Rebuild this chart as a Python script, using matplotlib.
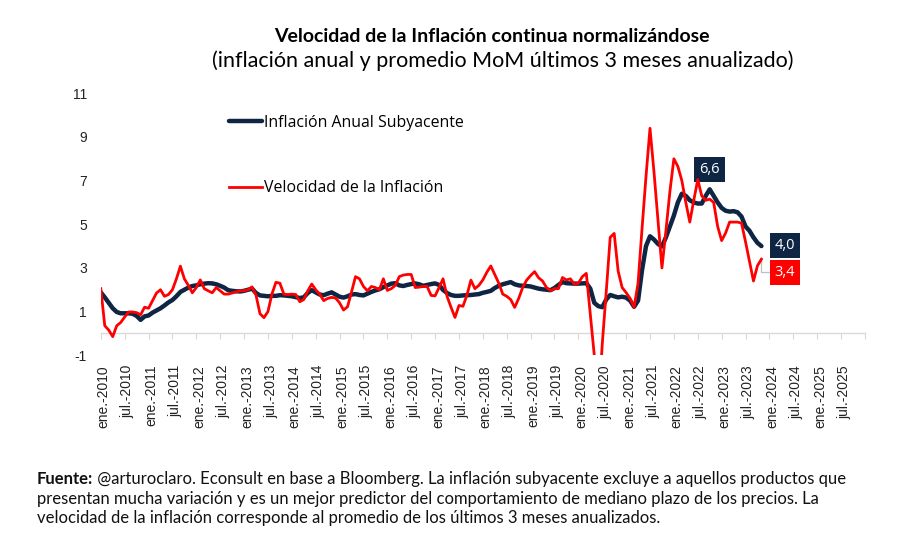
import numpy as np
import matplotlib.pyplot as plt
from matplotlib.transforms import ScaledTranslation

plt.rcParams["axes.unicode_minus"] = False

# ======================================================
# DATA  (monthly, first point = dic-2009, last = oct-2023)
# ======================================================
core_yoy = [
    1.88, 1.65, 1.40, 1.15, 0.98, 0.92, 0.92, 0.92, 0.90, 0.80, 0.62, 0.78,
    0.82, 0.95, 1.05, 1.15, 1.28, 1.42, 1.53, 1.70, 1.90, 2.00, 2.10, 2.17,
    2.20, 2.25, 2.28, 2.30, 2.29, 2.25, 2.18, 2.10, 1.98, 1.95, 1.93, 1.92,
    1.95, 2.00, 2.05, 1.85, 1.74, 1.72, 1.70, 1.72, 1.72, 1.75, 1.74, 1.72,
    1.70, 1.66, 1.62, 1.65, 1.85, 1.98, 1.88, 1.78, 1.75, 1.82, 1.88, 1.78,
    1.68, 1.64, 1.70, 1.78, 1.80, 1.76, 1.74, 1.82, 1.90, 1.97, 2.02, 2.12,
    2.20, 2.28, 2.30, 2.20, 2.17, 2.22, 2.26, 2.29, 2.25, 2.18, 2.22, 2.26,
    2.29, 2.22, 1.99, 1.85, 1.76, 1.72, 1.72, 1.74, 1.75, 1.76, 1.78, 1.80,
    1.86, 1.90, 1.95, 2.08, 2.18, 2.25, 2.30, 2.35, 2.25, 2.20, 2.18, 2.17,
    2.15, 2.10, 2.05, 2.02, 2.00, 1.98, 2.08, 2.22, 2.35, 2.30, 2.29, 2.28,
    2.28, 2.29, 2.30, 2.05, 1.40, 1.25, 1.20, 1.55, 1.76, 1.70, 1.65, 1.68,
    1.64, 1.50, 1.22, 1.50, 2.90, 4.00, 4.45, 4.30, 4.10, 3.98, 4.40, 4.90,
    5.40, 6.00, 6.40, 6.30, 6.10, 6.00, 5.95, 5.95, 6.30, 6.60, 6.30, 6.00,
    5.75, 5.62, 5.58, 5.60, 5.55, 5.35, 4.90, 4.70, 4.40, 4.15, 4.00,
]

velocity_3m = [
    2.05, 0.35, 0.15, -0.15, 0.35, 0.50, 0.75, 0.98, 0.98, 0.95, 0.85, 1.20,
    1.15, 1.50, 1.85, 2.00, 1.70, 1.78, 2.00, 2.50, 3.08, 2.50, 2.20, 1.86,
    2.10, 2.45, 2.05, 1.95, 1.86, 2.10, 1.95, 1.80, 1.80, 1.85, 1.90, 1.95,
    1.95, 2.00, 2.13, 1.75, 0.90, 0.72, 1.00, 1.80, 2.34, 2.30, 1.80, 1.78,
    1.80, 1.78, 1.45, 1.55, 1.95, 2.26, 2.00, 1.80, 1.50, 1.60, 1.65, 1.62,
    1.40, 1.07, 1.22, 1.90, 2.60, 2.50, 2.15, 1.95, 2.15, 2.10, 2.00, 2.50,
    1.97, 2.05, 2.20, 2.60, 2.67, 2.70, 2.70, 2.10, 2.12, 2.15, 2.15, 1.74,
    1.72, 2.10, 2.50, 1.70, 1.20, 0.73, 1.28, 1.24, 1.75, 2.44, 2.05, 2.20,
    2.45, 2.80, 3.09, 2.70, 2.30, 1.80, 1.70, 1.55, 1.19, 1.60, 2.10, 2.44,
    2.65, 2.83, 2.55, 2.40, 2.10, 1.96, 2.05, 2.05, 2.56, 2.45, 2.50, 2.25,
    2.30, 2.60, 2.75, 0.90, -1.00, -3.50, -0.50, 1.90, 4.40, 4.58, 2.85, 2.10,
    1.87, 1.60, 1.20, 2.30, 4.80, 7.20, 9.40, 7.40, 5.20, 3.00, 4.70, 6.50,
    8.00, 7.65, 7.00, 6.00, 5.10, 6.10, 7.05, 6.30, 6.10, 6.15, 6.00, 4.90,
    4.25, 4.60, 5.10, 5.10, 5.10, 5.05, 4.20, 3.30, 2.40, 3.10, 3.40,
]

tick_labels = [f"{m}-{y}" for y in range(2010, 2026) for m in ("ene.", "jul.")]

navy = "#0e2544"
red = "#ff0000"

# ======================================================
# FIGURE
# ======================================================
fig = plt.figure(figsize=(9, 5.49), dpi=100)
ax = fig.add_axes([0.112, 0.353, 0.849, 0.477])

x = np.arange(len(core_yoy))
ax.plot(x, core_yoy, color=navy, lw=3.2, solid_capstyle="round",
        label="Inflación Anual Subyacente", zorder=3)
ax.plot(x, velocity_3m, color=red, lw=2.0, label="Velocidad de la Inflación", zorder=4)

ax.set_ylim(-1, 11)
ax.set_xlim(0, 192)
ax.set_yticks(np.arange(-1, 12, 2))
ax.tick_params(axis="y", length=0, pad=10, labelsize=10, labelcolor="#222222")
for lab in ax.get_yticklabels():
    lab.set_fontfamily("Liberation Sans")

for s in ["top", "right", "left"]:
    ax.spines[s].set_visible(False)
ax.spines["bottom"].set_position(("data", 0))
ax.spines["bottom"].set_color("#d9d9d9")
ax.spines["bottom"].set_linewidth(1.0)
ax.set_xticks(np.arange(0, 193, 6))
ax.tick_params(axis="x", direction="out", length=4, color="#d9d9d9", labelbottom=False)

sec = ax.secondary_xaxis(0)
sec.set_xticks(np.arange(0, 186 + 1, 6), tick_labels, rotation=90)
sec.tick_params(length=0, pad=7, labelsize=10, labelcolor="#222222")
sec.spines["bottom"].set_visible(False)
shift = ScaledTranslation(3 / 100, 0, fig.dpi_scale_trans)
for lab in sec.get_xticklabels():
    lab.set_fontfamily("Liberation Sans")
    lab.set_transform(lab.get_transform() + shift)

# legend
ax.legend(loc="upper left", bbox_to_anchor=(229 / 900, 1 - 115 / 549),
          bbox_transform=fig.transFigure, frameon=False, borderpad=0,
          borderaxespad=0, handlelength=2.1, handletextpad=0.12,
          labelspacing=3.1, prop={"family": "Open Sans", "size": 11.4})

# data labels
box_kw = dict(boxstyle="square,pad=0.35", ec="none")
ax.annotate("6,6", xy=(153, core_yoy[153]), xytext=(0, 14.5), textcoords="offset points",
            ha="center", va="center", color="white", family="Open Sans", fontsize=10.5,
            bbox=dict(fc=navy, **box_kw))
ax.annotate("4,0", xy=(x[-1], core_yoy[-1]), xytext=(17, 0.5), textcoords="offset points",
            ha="center", va="center", color="white", family="Open Sans", fontsize=10.5,
            bbox=dict(fc=navy, **box_kw))
ax.annotate("3,4", xy=(x[-1], velocity_3m[-1]), xytext=(17, -9.5), textcoords="offset points",
            ha="center", va="center", color="white", family="Open Sans", fontsize=10.5,
            bbox=dict(fc=red, **box_kw),
            arrowprops=dict(arrowstyle="-", color="#bfbfbf", lw=0.9, shrinkA=0, shrinkB=0,
                            connectionstyle="angle,angleA=0,angleB=90,rad=0"))

# titles
fig.text(0.546, 1 - 37 / 549, "Velocidad de la Inflación continua normalizándose",
         ha="center", va="center", family="Lato", weight="bold", fontsize=14)
fig.text(0.559, 1 - 61 / 549, "(inflación anual y promedio MoM últimos 3 meses anualizado)",
         ha="center", va="center", family="Lato", fontsize=15.5)

# footer
foot_kw = dict(family="Lato", fontsize=12, color="#111111", va="bottom")
f1 = fig.text(37 / 900, 1 - 487 / 549, "Fuente:", weight="bold", **foot_kw)
ax.annotate(" @arturoclaro. Econsult en base a Bloomberg. La inflación subyacente excluye a aquellos productos que",
            xy=(1, 0), xycoords=f1, annotation_clip=False, **foot_kw)
fig.text(37 / 900, 1 - 507 / 549,
         "presentan mucha variación y es un mejor predictor del comportamiento de mediano plazo de los precios. La",
         **foot_kw)
fig.text(37 / 900, 1 - 526 / 549,
         "velocidad de la inflación corresponde al promedio de los últimos 3 meses anualizados.",
         **foot_kw)

fig.savefig("out.png", dpi=100, facecolor="white")
